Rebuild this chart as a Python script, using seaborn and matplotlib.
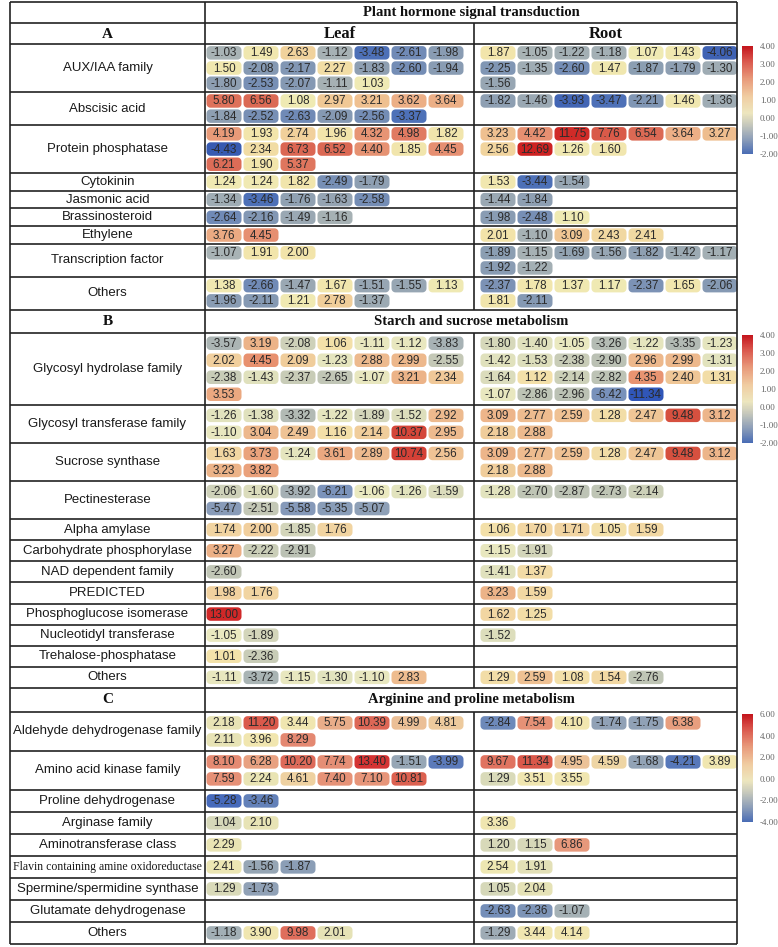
import numpy as np
import pandas as pd
import matplotlib
matplotlib.use("Agg")
import matplotlib.pyplot as plt
import seaborn as sns
from matplotlib.path import Path
from matplotlib.colors import LinearSegmentedColormap, Normalize
from matplotlib.cm import ScalarMappable

# ---------------- data (log2 fold change, read row by row, 7 per line) ----------------
hormone_cats = ["AUX/IAA family", "Abscisic acid", "Protein phosphatase", "Cytokinin",
                "Jasmonic acid", "Brassinosteroid", "Ethylene", "Transcription factor", "Others"]
hormone_leaf = [
    [-1.03, 1.49, 2.63, -1.12, -3.48, -2.61, -1.98, 1.50, -2.08, -2.17, 2.27, -1.83, -2.60, -1.94,
     -1.80, -2.53, -2.07, -1.11, 1.03],
    [5.80, 6.56, 1.08, 2.97, 3.21, 3.62, 3.64, -1.84, -2.52, -2.63, -2.09, -2.56, -3.37],
    [4.19, 1.93, 2.74, 1.96, 4.32, 4.98, 1.82, -4.43, 2.34, 6.73, 6.52, 4.40, 1.85, 4.45,
     6.21, 1.90, 5.37],
    [1.24, 1.24, 1.82, -2.49, -1.79],
    [-1.34, -3.46, -1.76, -1.63, -2.58],
    [-2.64, -2.16, -1.49, -1.16],
    [3.76, 4.45],
    [-1.07, 1.91, 2.00],
    [1.38, -2.66, -1.47, 1.67, -1.51, -1.55, 1.13, -1.96, -2.11, 1.21, 2.78, -1.37],
]
hormone_root = [
    [1.87, -1.05, -1.22, -1.18, 1.07, 1.43, -4.06, -2.25, -1.35, -2.60, 1.47, -1.87, -1.79, -1.30,
     -1.56],
    [-1.82, -1.46, -3.93, -3.47, -2.21, 1.46, -1.36],
    [3.23, 4.42, 11.75, 7.76, 6.54, 3.64, 3.27, 2.56, 12.69, 1.26, 1.60],
    [1.53, -3.44, -1.54],
    [-1.44, -1.84],
    [-1.98, -2.48, 1.10],
    [2.01, -1.10, 3.09, 2.43, 2.41],
    [-1.89, -1.15, -1.69, -1.56, -1.82, -1.42, -1.17, -1.92, -1.22],
    [-2.37, 1.78, 1.37, 1.17, -2.37, 1.65, -2.06, 1.81, -2.11],
]

starch_cats = ["Glycosyl hydrolase family", "Glycosyl transferase family", "Sucrose synthase",
               "Pectinesterase", "Alpha amylase", "Carbohydrate phosphorylase", "NAD dependent family",
               "PREDICTED", "Phosphoglucose isomerase", "Nucleotidyl transferase",
               "Trehalose-phosphatase", "Others"]
starch_leaf = [
    [-3.57, 3.19, -2.08, 1.06, -1.11, -1.12, -3.83, 2.02, 4.45, 2.09, -1.23, 2.88, 2.99, -2.55,
     -2.38, -1.43, -2.37, -2.65, -1.07, 3.21, 2.34, 3.53],
    [-1.26, -1.38, -3.32, -1.22, -1.89, -1.52, 2.92, -1.10, 3.04, 2.49, 1.16, 2.14, 10.37, 2.95],
    [1.63, 3.73, -1.24, 3.61, 2.89, 10.74, 2.56, 3.23, 3.82],
    [-2.06, -1.60, -3.92, -6.21, -1.06, -1.26, -1.59, -5.47, -2.51, -5.58, -5.35, -5.07],
    [1.74, 2.00, -1.85, 1.76],
    [3.27, -2.22, -2.91],
    [-2.60],
    [1.98, 1.76],
    [13.00],
    [-1.05, -1.89],
    [1.01, -2.36],
    [-1.11, -3.72, -1.15, -1.30, -1.10, 2.83],
]
starch_root = [
    [-1.80, -1.40, -1.05, -3.26, -1.22, -3.35, -1.23, -1.42, -1.53, -2.38, -2.90, 2.96, 2.99, -1.31,
     -1.64, 1.12, -2.14, -2.82, 4.35, 2.40, 1.31, -1.07, -2.86, -2.96, -6.42, -11.34],
    [3.09, 2.77, 2.59, 1.28, 2.47, 9.48, 3.12, 2.18, 2.88],
    [3.09, 2.77, 2.59, 1.28, 2.47, 9.48, 3.12, 2.18, 2.88],
    [-1.28, -2.70, -2.87, -2.73, -2.14],
    [1.06, 1.70, 1.71, 1.05, 1.59],
    [-1.15, -1.91],
    [-1.41, 1.37],
    [3.23, 1.59],
    [1.62, 1.25],
    [-1.52],
    [],
    [1.29, 2.59, 1.08, 1.54, -2.76],
]

arginine_cats = ["Aldehyde dehydrogenase family", "Amino acid kinase family", "Proline dehydrogenase",
                 "Arginase family", "Aminotransferase class", "Flavin containing amine oxidoreductase",
                 "Spermine/spermidine synthase", "Glutamate dehydrogenase", "Others"]
arginine_leaf = [
    [2.18, 11.20, 3.44, 5.75, 10.39, 4.99, 4.81, 2.11, 3.96, 8.29],
    [8.10, 6.28, 10.20, 7.74, 13.40, -1.51, -3.99, 7.59, 2.24, 4.61, 7.40, 7.10, 10.81],
    [-5.28, -3.46],
    [1.04, 2.10],
    [2.29],
    [2.41, -1.56, -1.87],
    [1.29, -1.73],
    [],
    [-1.18, 3.90, 9.98, 2.01],
]
arginine_root = [
    [-2.84, 7.54, 4.10, -1.74, -1.75, 6.38],
    [9.67, 11.34, 4.95, 4.59, -1.68, -4.21, 3.89, 1.29, 3.51, 3.55],
    [],
    [3.36],
    [1.20, 1.15, 6.86],
    [2.54, 1.91],
    [1.05, 2.04],
    [-2.63, -2.36, -1.07],
    [-1.29, 3.44, 4.14],
]

# colour ramps used for the cells of each block
hormone_nodes = [(-4.6, "#3457B0"), (-3.4, "#4F72B8"), (-2.5, "#7890B5"), (-1.8, "#8FA0B2"),
                 (-1.0, "#ABB5B5"), (0, "#D8D8BC"), (1.0, "#EFEAB4"), (2.0, "#F2E4AA"),
                 (3.0, "#F0C895"), (4.0, "#EAA07C"), (5.0, "#E07A62"), (7.0, "#DA6450"),
                 (10.0, "#D53C33"), (13.0, "#CC1F20")]
starch_nodes = [(-11.5, "#2F55B8"), (-6.3, "#7A92BB"), (-4.5, "#97A6B5"), (-3.0, "#BAC0B4"),
                (-2.0, "#D0D3B9"), (-1.0, "#EBEAC0"), (1.0, "#F3E2AA"), (2.0, "#F1D09E"),
                (3.0, "#EDB88C"), (4.5, "#E8906E"), (9.5, "#D6503F"), (13.0, "#D02828")]
arginine_nodes = [(-5.5, "#4468BB"), (-3.0, "#6A87B9"), (-1.5, "#98A7B5"), (0, "#C8CDB6"),
                  (1.5, "#DCDCBA"), (2.5, "#EEE7B2"), (4.2, "#F1E6AF"), (5.0, "#EBBF96"),
                  (6.5, "#E89C7D"), (8.5, "#E48670"), (11.0, "#DB5E4E"), (13.5, "#D43232")]
legend_nodes = [(0.0, "#4A6DB5"), (0.13, "#8A9CB8"), (0.27, "#C6C8BC"), (0.38, "#EDE6BE"),
                (0.53, "#F0CDA2"), (0.70, "#E8997A"), (0.87, "#D9534A"), (1.0, "#C3141C")]


def ramp(nodes):
    lo, hi = nodes[0][0], nodes[-1][0]
    cmap = LinearSegmentedColormap.from_list("r", [((v - lo) / (hi - lo), c) for v, c in nodes])
    return cmap, Normalize(lo, hi)


sns.set_theme(style="white")
plt.rcParams["font.family"] = ["Liberation Sans", "DejaVu Sans"]
SERIF = ["Liberation Serif", "DejaVu Serif"]

# ---------------- layout in pixels ----------------
W, H = 778, 947
X0, XL, XM, XR = 10, 205, 474.5, 737
LEAF_C0, ROOT_C0, PITCH, NCOL = 224, 498, 37, 7
LINE_COL = "#222222"

# rounded pill marker (35 x 13.5 px)
pw, ph, pr = 35.0, 13.5, 4.0
pts = []
for cx, cy, a0 in [(pw/2 - pr, ph/2 - pr, 0), (-pw/2 + pr, ph/2 - pr, 90),
                   (-pw/2 + pr, -ph/2 + pr, 180), (pw/2 - pr, -ph/2 + pr, 270)]:
    for a in np.radians(np.linspace(a0, a0 + 90, 8)):
        pts.append((cx + pr*np.cos(a), cy + pr*np.sin(a)))
pts.append(pts[0])
pill = Path(np.array(pts), closed=True)
pill_s = (pw * 0.72) ** 2

fig = plt.figure(figsize=(W/100, H/100), dpi=100)
ax = fig.add_axes([0, 0, 1, 1])

sections = [
    dict(letter="A", title="Plant hormone signal transduction", cats=hormone_cats,
         leaf=hormone_leaf, root=hormone_root, line=15.2, pad=2.5, head=21,
         nodes=hormone_nodes, legend=(-2, 4, [4, 3, 2, 1, 0, -1, -2])),
    dict(letter="B", title="Starch and sucrose metabolism", cats=starch_cats,
         leaf=starch_leaf, root=starch_root, line=17.0, pad=4.1, head=23,
         nodes=starch_nodes, legend=(-2, 4, [4, 3, 2, 1, 0, -1, -2])),
    dict(letter="C", title="Arginine and proline metabolism", cats=arginine_cats,
         leaf=arginine_leaf, root=arginine_root, line=17.0, pad=5.0, head=24,
         nodes=arginine_nodes, legend=(-4, 6, [6, 4, 2, 0, -2, -4])),
]

y = 2.0
top = y
ax.hlines(y, X0, XR, color=LINE_COL, lw=1.2)
for si, sec in enumerate(sections):
    xc_title = (XL + XR) / 2
    if si == 0:
        ax.text(xc_title, y + 10.5, sec["title"], ha="center", va="center",
                fontsize=10.5, fontweight="bold", family=SERIF, color="#111111")
        y += 21
        ax.hlines(y, X0, XR, color=LINE_COL, lw=1.2)
        ax.text((X0 + XL) / 2, y + 11.5, sec["letter"], ha="center", va="center",
                fontsize=11, fontweight="bold", family=SERIF, color="#111111")
        ax.text((XL + XM) / 2, y + 10.5, "Leaf", ha="center", va="center",
                fontsize=12, fontweight="bold", family=SERIF, color="#111111")
        ax.text((XM + XR) / 2, y + 10.5, "Root", ha="center", va="center",
                fontsize=12, fontweight="bold", family=SERIF, color="#111111")
        ax.vlines(XM, y, y + 21, color=LINE_COL, lw=1.2)
        y += 21
    else:
        h = sec["head"]
        ax.text((X0 + XL) / 2, y + h/2, sec["letter"], ha="center", va="center",
                fontsize=11, fontweight="bold", family=SERIF, color="#111111")
        ax.text(xc_title, y + h/2, sec["title"], ha="center", va="center",
                fontsize=10.5, fontweight="bold", family=SERIF, color="#111111")
        y += h
    ax.hlines(y, X0, XR, color=LINE_COL, lw=1.2)
    body_top = y

    rows = []
    for ci, cat in enumerate(sec["cats"]):
        lv, rv = sec["leaf"][ci], sec["root"][ci]
        nl = max(1, -(-len(lv) // NCOL), -(-len(rv) // NCOL))
        rh = nl * sec["line"] + sec["pad"]
        if len(cat) > 32:
            ax.text((X0 + XL) / 2, y + rh/2, cat, ha="center", va="center", fontsize=8.5,
                    family=SERIF, color="#1a1a1a")
        else:
            ax.text((X0 + XL) / 2, y + rh/2, cat, ha="center", va="center", fontsize=9.5,
                    color="#1a1a1a")
        for c0, vals in [(LEAF_C0, lv), (ROOT_C0, rv)]:
            for j, v in enumerate(vals):
                rows.append(dict(x=c0 + (j % NCOL) * PITCH,
                                 y=y + sec["pad"]/2 + sec["line"] * (j // NCOL + 0.5), v=v))
        y += rh
        ax.hlines(y, X0, XR, color=LINE_COL, lw=1.2)
    ax.vlines(XM, body_top, y, color=LINE_COL, lw=1.2)

    df = pd.DataFrame(rows)
    cmap, norm = ramp(sec["nodes"])
    sns.scatterplot(data=df, x="x", y="y", hue="v", palette=cmap, hue_norm=norm,
                    marker=pill, s=pill_s, linewidth=0, legend=False, ax=ax, zorder=2)
    for r in df.itertuples():
        ax.text(r.x, r.y + 0.5, f"{r.v:.2f}", ha="center", va="center", fontsize=8.4,
                color="#2b2b2b", zorder=3)

    # colour legend bar on the right
    lo, hi, ticks = sec["legend"]
    bar_top = body_top + 2
    cax = fig.add_axes([742 / W, 1 - (bar_top + 108) / H, 11 / W, 108 / H])
    lcmap = LinearSegmentedColormap.from_list("l", legend_nodes)
    cb = fig.colorbar(ScalarMappable(norm=Normalize(lo, hi), cmap=lcmap), cax=cax)
    cb.outline.set_visible(False)
    cb.set_ticks(ticks)
    cb.set_ticklabels([f"{t:.2f}" for t in ticks])
    cax.tick_params(length=0, labelsize=6.5, labelcolor="#666666", pad=5)
    for lab in cax.get_yticklabels():
        lab.set_family(SERIF)

ax.vlines([X0, XL, XR], top, y, color=LINE_COL, lw=1.2)
ax.set_xlim(0, W)
ax.set_ylim(H, 0)
ax.axis("off")

fig.savefig("out.png", dpi=100)
